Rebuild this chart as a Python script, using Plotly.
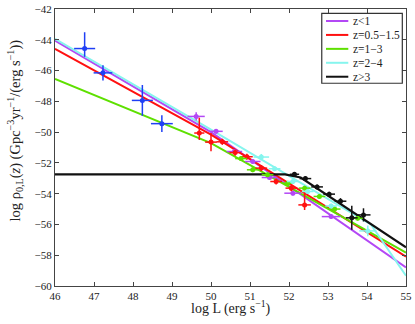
import plotly.graph_objects as go

# fitted model curves (knots)
purple_L = [46, 50, 55]
purple_rho = [-44.05, -50.0, -58.8]
red_L = [46, 50, 55]
red_rho = [-44.59, -50.17, -58.09]
green_L = [46, 50, 55]
green_rho = [-46.55, -50.71, -57.83]
cyan_L = [46, 50, 54.1, 55]
cyan_rho = [-43.94, -49.84, -56.0, -59.33]
black_L = [46, 51.9, 52.3, 55]
black_rho = [-52.75, -52.75, -52.95, -57.48]

# binned data points
blue_x = [46.76, 47.23, 48.24, 48.74]
blue_y = [-44.57, -46.15, -47.94, -49.45]
blue_xe = [0.27, 0.24, 0.27, 0.28]
blue_ye_up = [1.06, 0.5, 1.0, 0.55]
blue_ye_dn = [0.54, 0.5, 1.0, 0.55]

purple_x = [49.62, 50.13, 50.6, 51.07, 51.5, 52.1, 53.08]
purple_y = [-48.98, -49.95, -51.26, -51.91, -52.95, -53.97, -55.49]
purple_xe = [0.22, 0.17, 0.2, 0.2, 0.2, 0.22, 0.24]
purple_ye = [0.27, 0.15, 0.15, 0.15, 0.15, 0.15, 0.15]

red_x = [49.7, 50.0, 50.29, 50.62, 50.92, 51.29, 51.67, 52.06, 52.4]
red_y = [-50.06, -50.65, -50.63, -51.33, -51.6, -52.34, -53.21, -53.64, -54.73]
red_xe = [0.13, 0.15, 0.15, 0.15, 0.15, 0.15, 0.15, 0.15, 0.16]
red_ye_up = [1.0, 0.6, 0.2, 0.2, 0.2, 0.2, 0.2, 0.2, 0.87]
red_ye_dn = [0.45, 0.6, 0.2, 0.2, 0.2, 0.2, 0.2, 0.2, 0.33]

green_x = [50.77, 51.07, 51.45, 51.97, 52.4, 52.78, 53.17, 53.76]
green_y = [-51.72, -52.45, -52.77, -53.32, -53.64, -54.18, -55.0, -55.6]
green_xe = [0.15] * 8
green_ye = [0.15] * 8

cyan_x = [51.29, 51.63, 52.1, 52.48, 53.08, 54.02]
cyan_y = [-51.62, -52.38, -53.21, -53.86, -54.8, -56.42]
cyan_xe = [0.2, 0.15, 0.15, 0.15, 0.15, 0.22]
cyan_ye = [0.2, 0.15, 0.15, 0.15, 0.15, 0.35]

black_x = [52.14, 52.42, 52.72, 53.03, 53.32, 53.61, 53.91]
black_y = [-52.74, -53.02, -53.56, -54.03, -54.49, -55.57, -55.38]
black_xe = [0.12, 0.15, 0.15, 0.15, 0.15, 0.15, 0.18]
black_ye = [0.1, 0.15, 0.15, 0.15, 0.2, 0.78, 0.43]

legend_labels = ["z<1", "z=0.5\u22121.5", "z=1\u22123", "z=2\u22124", "z>3"]

c_purple = "#b348f5"
c_red = "#ff1010"
c_green = "#5ee000"
c_cyan = "#86f5ee"
c_black = "#111111"
c_blue = "#1f3ff5"
line_cols = [c_purple, c_red, c_green, c_cyan, c_black]

fig = go.Figure()


def pts(x, y, xe, ye_up, ye_dn, col):
    fig.add_trace(go.Scatter(
        x=x, y=y, mode="markers", showlegend=False,
        marker=dict(color=col, size=5),
        error_x=dict(type="data", array=xe, color=col, thickness=1.5, width=0),
        error_y=dict(type="data", array=ye_up, arrayminus=ye_dn, color=col,
                     thickness=1.5, width=0, symmetric=False),
    ))


# lines first, points over them
curves = [(purple_L, purple_rho), (red_L, red_rho), (green_L, green_rho),
          (cyan_L, cyan_rho), (black_L, black_rho)]
for (lx, ly), col, lab in zip(curves, line_cols, legend_labels):
    fig.add_trace(go.Scatter(x=lx, y=ly, mode="lines", name=lab, showlegend=False,
                             line=dict(color=col, width=2.2 if col == c_black else 2)))

pts(blue_x, blue_y, blue_xe, blue_ye_up, blue_ye_dn, c_blue)
pts(purple_x, purple_y, purple_xe, purple_ye, purple_ye, c_purple)
pts(red_x, red_y, red_xe, red_ye_up, red_ye_dn, c_red)
pts(green_x, green_y, green_xe, green_ye, green_ye, c_green)
pts(cyan_x, cyan_y, cyan_xe, cyan_ye, cyan_ye, c_cyan)
pts(black_x, black_y, black_xe, black_ye, black_ye, c_black)

axis_style = dict(
    showline=True, linecolor="#444444", linewidth=1, mirror="ticks",
    ticks="inside", ticklen=4, tickcolor="#444444", showgrid=False,
    zeroline=False, tickfont=dict(size=11, color="#222222"), automargin=False,
)
fig.update_xaxes(range=[46, 55], dtick=1, tick0=46, **axis_style)
fig.update_yaxes(range=[-60, -42], dtick=2, tick0=-60, **axis_style)

# compact boxed legend, MATLAB style
shapes = [dict(type="rect", xref="paper", yref="paper", x0=0.760, x1=0.9895,
               y0=0.732, y1=0.9845, line=dict(color="#333333", width=1.2),
               fillcolor="white", layer="above")]
annotations = []
for i, (col, lab) in enumerate(zip(line_cols, legend_labels)):
    yy = 0.9567 - i * 0.0503
    shapes.append(dict(type="line", xref="paper", yref="paper", x0=0.772, x1=0.8356,
                       y0=yy, y1=yy, line=dict(color=col, width=2), layer="above"))
    annotations.append(dict(xref="paper", yref="paper", x=0.842, y=yy, text=lab,
                            showarrow=False, xanchor="left", yanchor="middle",
                            font=dict(size=11.5, color="#222222")))

# axis titles
annotations.append(dict(xref="paper", yref="paper", x=0.5, y=-0.079,
                        text="log L (erg s<sup>\u22121</sup>)", showarrow=False,
                        xanchor="center", yanchor="middle",
                        font=dict(size=14, color="#222222")))
annotations.append(dict(xref="paper", yref="paper", x=-0.115, y=0.56,
                        text="log \u03c1<sub>0,L</sub>(<i>z</i>) (Gpc<sup>\u22123</sup>yr<sup>\u22121</sup>/(erg s<sup>\u22121</sup>))",
                        showarrow=False, textangle=-90,
                        xanchor="center", yanchor="middle",
                        font=dict(size=14.5, color="#222222")))

fig.update_layout(
    width=415, height=324,
    margin=dict(l=55, r=9, t=9, b=38),
    paper_bgcolor="white", plot_bgcolor="white",
    font=dict(family="Liberation Serif, Times New Roman, serif", color="#222222"),
    showlegend=False, shapes=shapes, annotations=annotations,
)

# drop the default page margin so the figure sits at the window's corner
fig.write_html("out.html", config={"displayModeBar": False},
               post_script="document.body.style.margin='0';")
